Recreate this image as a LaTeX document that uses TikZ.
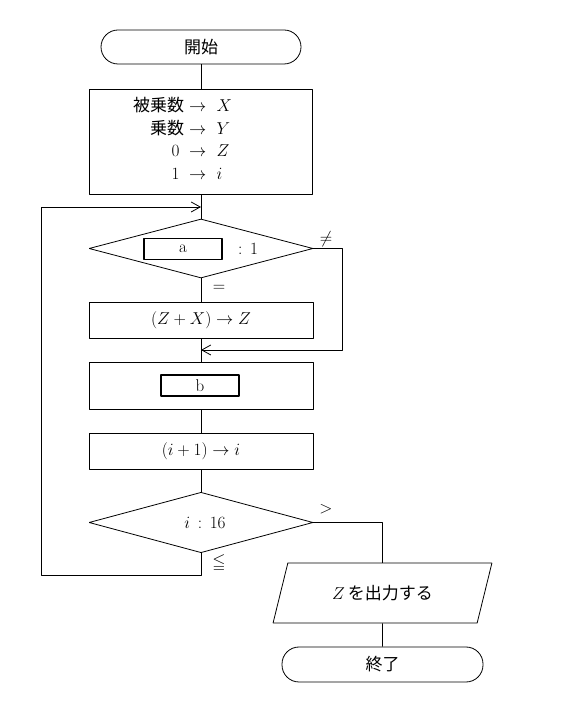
\documentclass[tikz,border=0pt]{standalone}
\usepackage{amsmath,amssymb}
\usepackage{fontspec}
\newfontfamily\jp{Noto Sans CJK JP}
\usetikzlibrary{positioning,shapes.geometric,arrows.meta}

\tikzset{
  flow/.style={line width=0.8bp},
  procbox/.style={draw,flow,minimum width=224bp,inner sep=0pt},
  termbox/.style={draw,flow,rounded corners=17bp,inner sep=0pt},
  decbox/.style={draw,flow,diamond,minimum width=224bp,minimum height=59bp,inner sep=0pt},
  blankbox/.style={draw,line width=1.6bp,minimum width=78bp,minimum height=21bp,inner sep=0pt},
  every node/.style={font=\fontsize{17bp}{22.5bp}\selectfont},
}

\begin{document}
\begin{tikzpicture}[>={Straight Barb[length=9bp,width=10bp]},line join=bevel]
\useasboundingbox (0bp,0bp) rectangle (573bp,716bp);
%%
\node (start) at (201bp,669bp) [termbox,minimum width=200bp,minimum height=34bp] {\jp 開始};
  \node (init) at (201bp,574.5bp) [procbox,minimum width=223bp,minimum height=105bp] {};
  \node (initvars) at (182.5bp,575bp) [inner sep=0pt] {\begin{tabular}{r@{\ \ }l}
    {\jp 被乗数}\ $\rightarrow$ & $X$\\
    {\jp 乗数}\ $\rightarrow$ & $Y$\\
    $0\;\rightarrow$ & $Z$\\
    $1\;\rightarrow$ & $i$
  \end{tabular}};
  \coordinate (join1) at (201bp,509bp);
  \node (cond1) at (201bp,467.5bp) [decbox] {};
  \node (blanka) at (183bp,467bp) [blankbox] {a};
  \node (cmp1) at (248bp,467bp) {$:\,1$};
  \node (neq) at (326bp,477bp) {$\neq$};
  \node (eq) at (219bp,428bp) {$=$};
  \node (addx) at (201bp,396bp) [procbox,minimum height=36bp] {$(Z+X)\rightarrow Z$};
  \coordinate (neqbot) at (342bp,366bp);
  \coordinate (join2) at (201bp,366bp);
  \node (stepb) at (201bp,330.5bp) [procbox,minimum height=47bp] {};
  \node (blankb) at (200bp,330.5bp) [blankbox] {b};
  \node (inci) at (201bp,265bp) [procbox,minimum height=36bp] {$(i+1)\rightarrow i$};
  \node (cond2) at (201bp,193.5bp) [decbox] {\hspace*{8bp}$i\,:\,16$};
  \node (leq) at (219bp,153bp) {$\leqq$};
  \node (gt) at (326bp,207bp) {$>$};
  \coordinate (loopbot) at (201bp,141bp);
  \coordinate (looptop) at (41bp,509bp);
  \node (output) at (382.5bp,123bp) [draw,flow,trapezium,trapezium left angle=63.4,trapezium right angle=116.6,trapezium stretches=true,minimum width=219bp,minimum height=60bp,inner sep=0pt] {$Z$\,{\jp を出力する}};
  \node (stop) at (382.5bp,51.5bp) [termbox,minimum width=201bp,minimum height=35bp] {\jp 終了};
  \draw [flow] (start) -- (init);
  \draw [flow] (init) -- (cond1);
  \draw [flow] (cond1) -- (addx);
  \draw [flow] (addx) -- (stepb);
  \draw [flow] (stepb) -- (inci);
  \draw [flow] (inci) -- (cond2);
  \draw [flow,->] (cond1.east) -| (neqbot) -- (join2);
  \draw [flow,->] (cond2.south) -- (loopbot) -| (looptop) -- (join1);
  \draw [flow] (cond2.east) -| (output.north);
  \draw [flow] (output) -- (stop);
%
\end{tikzpicture}
\end{document}
